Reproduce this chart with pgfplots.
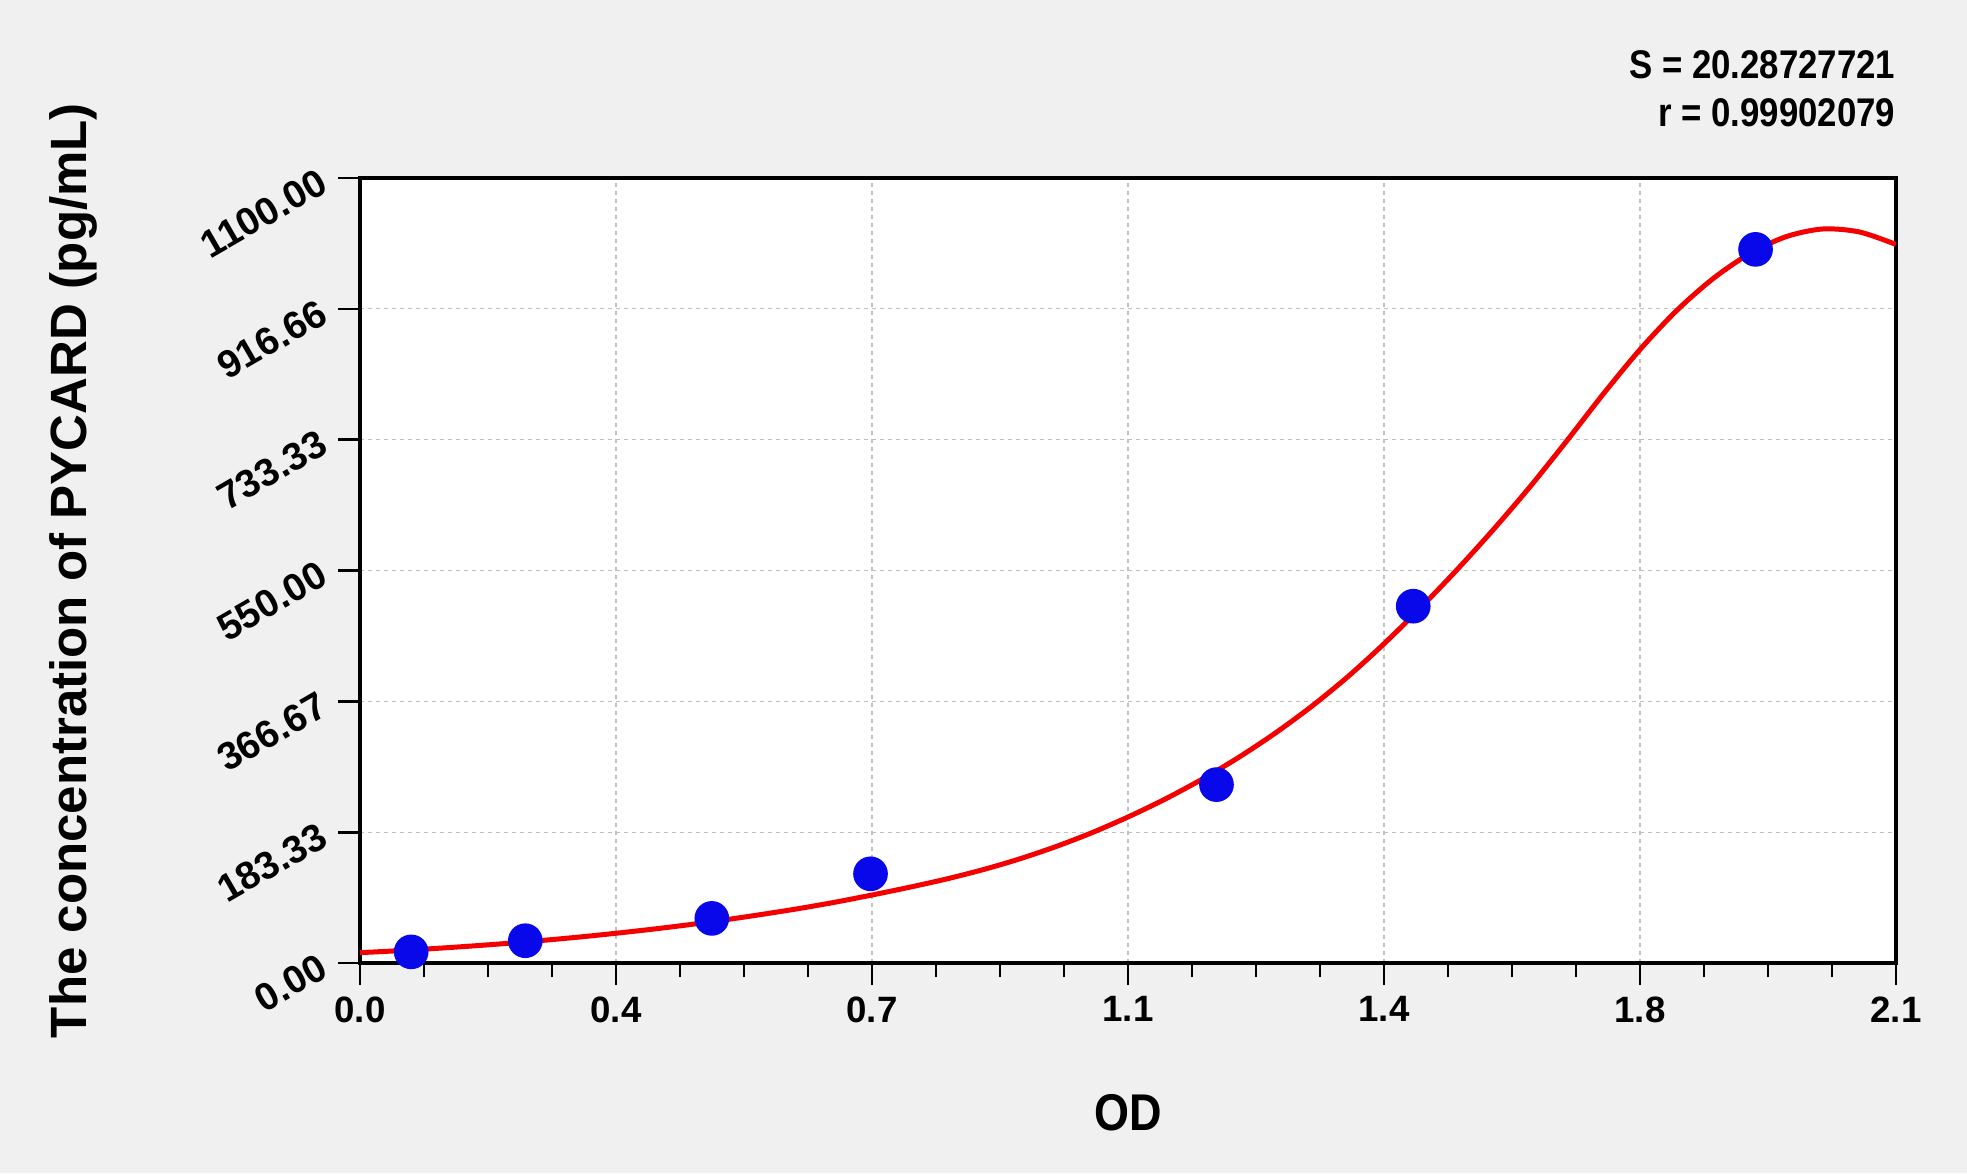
\documentclass[border=0pt]{standalone}
\usepackage{fontspec}
\setmainfont{Liberation Sans}
\newfontfamily\condfont{Liberation Sans}[FakeStretch=0.87]
\usepackage{pgfplots}
\pgfplotsset{compat=1.18}
\definecolor{bggray}{RGB}{240,240,240}
\definecolor{dotblue}{RGB}{8,8,235}
\definecolor{fitred}{RGB}{245,0,0}

\begin{document}
\begin{tikzpicture}
\fill[bggray] (-108pt,-63pt) rectangle (482.1pt,288.9pt);
\begin{axis}[
  name=ax,
  at={(0,0)}, anchor=south west,
  scale only axis, width=460.8pt, height=235.5pt,
  xmin=0, xmax=2.1, ymin=0, ymax=1100,
  axis background/.style={fill=white},
  axis line style={line width=1pt},
  tick align=outside, tick pos=left,
  major tick length=6.5pt, minor tick length=4.3pt,
  every tick/.style={black, line width=0.8pt},
  xtick={0,0.35,0.7,1.05,1.4,1.75,2.1},
  xticklabels={0.0,0.4,0.7,1.1,1.4,1.8,2.1},
  ytick={0,183.333,366.667,550,733.333,916.667,1100},
  yticklabels={0.00,183.33,366.67,550.00,733.33,916.66,1100.00},
  minor x tick num=3, minor y tick num=3,
  grid=major,
  major grid style={gray!50, line width=0.35pt, dash pattern=on 1.2pt off 1.2pt},
  /pgf/number format/assume math mode=true,
  xticklabel style={font=\bfseries\fontsize{11}{13}\selectfont},
  yticklabel style={font=\bfseries\fontsize{11.6}{13}\selectfont,
    xshift=-1.5pt, yshift=1.5pt, rotate=30, anchor=east},
  xlabel={OD},
  ylabel={The concentration of PYCARD (pg/mL)},
  xlabel style={font=\condfont\bfseries\fontsize{15.5}{17}\selectfont,
    at={([yshift=-45pt]axis description cs:0.5,0)}, anchor=center},
  ylabel style={font=\bfseries\fontsize{15.3}{17}\selectfont,
    at={([xshift=-86pt]axis description cs:0,0.5)}, anchor=center},
]
% standards
\addplot[only marks, mark=*, mark size=5pt, mark options={draw=dotblue, fill=dotblue}]
  coordinates {(0.070,15.625) (0.226,31.25) (0.481,62.5) (0.698,125)
               (1.171,250) (1.440,500) (1.908,1000)};
% fitted curve
\addplot[fitred, line width=1.5pt, smooth, tension=0.5] coordinates {
  (0,14.5) (0.05,17.1) (0.10,20.2) (0.15,23.6) (0.20,27.4) (0.25,31.7)
  (0.30,36.4) (0.35,41.7) (0.40,47.4) (0.45,53.7) (0.50,60.6) (0.55,68.2)
  (0.60,76.3) (0.65,85.3) (0.70,95.3) (0.75,105.9) (0.80,117.3) (0.85,130.3)
  (0.90,145.3) (0.95,162.6) (1.00,182.3) (1.05,204.6) (1.10,229.3) (1.15,256.8)
  (1.20,287.3) (1.25,321.2) (1.30,358.8) (1.35,400.7) (1.40,447.3) (1.45,497.8)
  (1.50,551.3) (1.55,607.9) (1.60,667.8) (1.65,731.8) (1.70,797.6) (1.75,859.6)
  (1.80,914.1) (1.85,959.1) (1.90,994.1) (1.95,1017.9) (2.00,1028.6)
  (2.05,1024.4) (2.10,1006.9)};
\end{axis}
\node[anchor=base east, inner sep=0pt, font=\condfont\bfseries\fontsize{12}{14}\selectfont]
  at ([yshift=29.9pt]ax.north east) {S = 20.28727721};
\node[anchor=base east, inner sep=0pt, font=\condfont\bfseries\fontsize{12}{14}\selectfont]
  at ([yshift=15.4pt]ax.north east) {r = 0.99902079};
\pgfresetboundingbox
\useasboundingbox (-108pt,-63pt) rectangle (482.1pt,288.9pt);
\end{tikzpicture}
\end{document}
